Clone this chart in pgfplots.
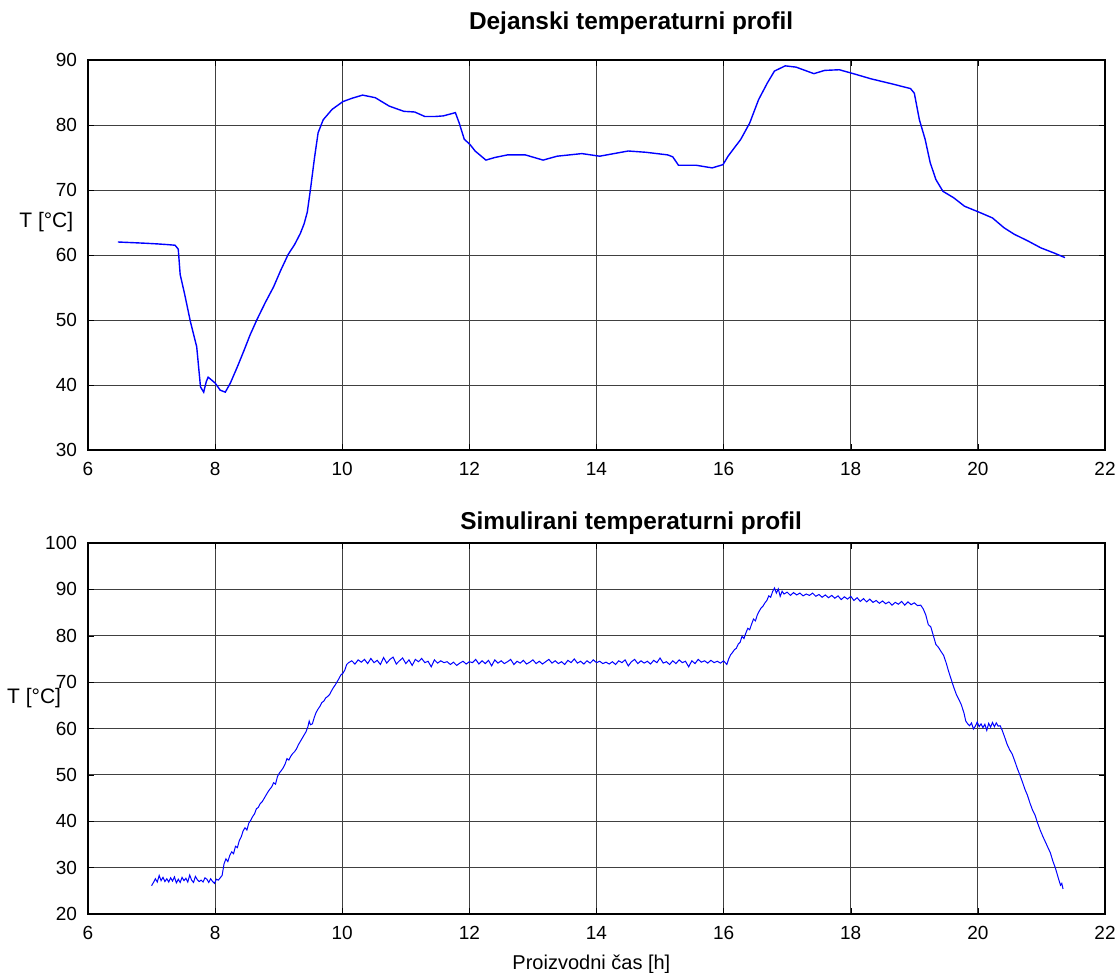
\documentclass[border=0pt]{standalone}
\usepackage{fontspec}
\setmainfont{Liberation Sans}
\usepackage{pgfplots}
\pgfplotsset{compat=1.18}

\pgfplotsset{
  mlab/.style={
    scale only axis,
    width=508.5pt,
    xmin=6, xmax=22,
    xtick={6,8,...,22},
    grid=major,
    grid style={black!75, line width=0.4pt},
    axis line style={black, line width=0.7pt},
    tick align=inside,
    major tick length=3pt,
    tick style={black},
    clip mode=individual,
    /pgf/number format/assume math mode=true,
    ticklabel style={font=\fontsize{9.5}{11}\selectfont},
    xticklabel style={yshift=-2.5pt},
    yticklabel style={xshift=-2pt},
    title style={font=\fontsize{12.2}{14}\selectfont\bfseries, anchor=base},
  },
}

\begin{document}
\begin{tikzpicture}

% top: measured profile
\begin{axis}[mlab,
    name=top,
    at={(0pt,0pt)}, anchor=south west,
    height=195pt,
    ymin=30, ymax=90,
    ytick={30,40,...,90},
    title={Dejanski temperaturni profil},
    title style={at={(0.534,1)}, yshift=9pt},
]
\addplot[blue, line width=0.7pt] coordinates {
(6.47,62.0) (6.70,61.9) (6.92,61.8) (7.10,61.7) (7.25,61.6) (7.37,61.5)
(7.42,60.9) (7.45,57.0) (7.52,54.0) (7.61,49.8) (7.71,45.9) (7.77,39.7)
(7.82,38.9) (7.86,40.5) (7.89,41.2) (7.94,40.8) (8.00,40.3) (8.08,39.2)
(8.16,38.9) (8.24,40.3) (8.35,42.8) (8.45,45.2) (8.55,47.7) (8.66,50.1)
(8.79,52.7) (8.92,55.1) (9.03,57.6) (9.15,60.1) (9.25,61.6) (9.34,63.3)
(9.40,64.8) (9.45,66.6) (9.50,70.1) (9.56,74.7) (9.62,78.8) (9.70,80.8)
(9.84,82.4) (10.01,83.6) (10.15,84.1) (10.32,84.6) (10.52,84.2) (10.74,82.9)
(10.97,82.1) (11.14,82.0) (11.30,81.3) (11.45,81.3) (11.59,81.4) (11.78,81.9)
(11.84,80.3) (11.92,77.8) (12.01,77.0) (12.09,76.0) (12.26,74.6) (12.40,75.0)
(12.60,75.4) (12.88,75.4) (13.16,74.6) (13.38,75.2) (13.77,75.6) (14.05,75.2)
(14.50,76.0) (14.78,75.8) (15.12,75.4) (15.20,75.1) (15.29,73.8) (15.57,73.8)
(15.82,73.4) (15.99,73.9) (16.07,75.2) (16.27,77.8) (16.41,80.3) (16.55,83.9)
(16.69,86.5) (16.80,88.3) (16.97,89.1) (17.14,88.9) (17.42,87.9) (17.59,88.4)
(17.82,88.5) (18.04,87.9) (18.32,87.1) (18.66,86.3) (18.94,85.6) (19.00,84.9)
(19.08,80.8) (19.17,77.8) (19.25,74.2) (19.34,71.6) (19.45,69.8) (19.62,68.8)
(19.79,67.5) (20.04,66.5) (20.23,65.7) (20.41,64.2) (20.57,63.2) (20.78,62.2)
(20.99,61.1) (21.20,60.3) (21.37,59.6)
};
\node[font=\fontsize{10.5}{12}\selectfont] at (axis description cs:-0.041,0.585) {T [°C]};
\end{axis}

% bottom: simulated profile
\begin{axis}[mlab,
    at={(0pt,-232pt)}, anchor=south west,
    height=185.5pt,
    ymin=20, ymax=100,
    ytick={20,30,...,100},
    title={Simulirani temperaturni profil},
    title style={at={(0.534,1)}, yshift=1pt},
]
\addplot[blue, line width=0.5pt] coordinates {
(7.00,26.1) (7.03,26.8) (7.06,27.6) (7.09,26.9) (7.12,28.3) (7.15,27.2) (7.18,27.9)
(7.21,27.0) (7.24,27.6) (7.27,26.9) (7.30,27.8) (7.33,27.1) (7.36,28.0) (7.39,26.7)
(7.42,27.5) (7.45,26.8) (7.48,27.9) (7.51,27.2) (7.54,27.7) (7.57,26.9) (7.60,28.4)
(7.63,27.3) (7.66,26.8) (7.69,28.1) (7.72,27.4) (7.75,27.0) (7.78,27.3) (7.81,26.9)
(7.84,27.8) (7.87,27.5) (7.90,26.8) (7.93,27.6) (7.96,27.0) (7.99,26.6) (8.02,27.5)
(8.05,27.3) (8.08,27.8) (8.11,28.3)
(8.14,30.8) (8.17,31.9) (8.20,31.3) (8.23,32.6) (8.26,33.4) (8.29,33.0) (8.32,34.6)
(8.35,34.3) (8.38,35.8) (8.41,36.6) (8.44,37.9) (8.47,38.6) (8.50,38.1) (8.53,39.6)
(8.56,40.2) (8.59,41.0) (8.62,41.6) (8.65,42.7) (8.68,43.0) (8.71,43.8) (8.74,44.2)
(8.77,44.9) (8.80,45.6) (8.83,46.3) (8.86,46.9) (8.89,47.4) (8.92,48.3) (8.95,48.0)
(8.98,49.6) (9.01,50.4) (9.04,50.9) (9.07,51.5) (9.10,52.3) (9.13,53.5) (9.16,53.2)
(9.19,54.0) (9.22,54.6) (9.25,55.0) (9.28,55.6) (9.31,56.5) (9.34,57.2) (9.37,57.9)
(9.40,58.6) (9.43,59.3) (9.46,60.4) (9.48,61.6) (9.50,60.8) (9.53,61.0) (9.56,62.4)
(9.59,63.5) (9.62,64.2) (9.65,64.8) (9.68,65.6) (9.71,65.9) (9.74,66.6) (9.77,66.9)
(9.80,67.3) (9.83,68.1) (9.86,68.8) (9.89,69.4) (9.92,70.1) (9.95,70.8) (9.98,71.6)
(10.01,71.9) (10.04,72.6) (10.07,73.8) (10.10,74.2)
(10.15,74.6) (10.20,73.9) (10.25,74.8) (10.30,74.3) (10.35,74.9) (10.40,74.0) (10.45,75.1)
(10.50,74.2) (10.55,74.7) (10.60,73.8) (10.65,75.3) (10.70,74.1) (10.75,74.9) (10.80,75.4)
(10.85,73.9) (10.90,74.6) (10.95,75.2) (11.00,74.0) (11.05,74.8) (11.10,73.6) (11.15,74.9)
(11.20,74.4) (11.25,75.1) (11.30,74.2) (11.35,74.5) (11.40,73.3) (11.45,74.8) (11.50,74.1)
(11.55,74.6) (11.60,74.2) (11.65,74.4) (11.70,73.8) (11.75,74.3) (11.80,73.6) (11.85,74.1)
(11.90,74.5) (11.95,73.9) (12.00,74.4) (12.05,74.2) (12.10,74.9) (12.15,73.9) (12.20,74.6)
(12.25,74.0) (12.30,74.7) (12.35,73.5) (12.40,74.8) (12.45,74.1) (12.50,74.6) (12.55,74.0)
(12.60,74.4) (12.65,74.9) (12.70,73.8) (12.75,74.5) (12.80,74.1) (12.85,74.7) (12.90,73.9)
(12.95,74.3) (13.00,74.8) (13.05,74.0) (13.10,74.5) (13.15,73.9) (13.20,74.4) (13.25,74.9)
(13.30,74.1) (13.35,74.6) (13.40,74.0) (13.45,74.4) (13.50,73.8) (13.55,74.7) (13.60,74.2)
(13.65,75.0) (13.70,74.1) (13.75,74.5) (13.80,73.9) (13.85,74.6) (13.90,74.1) (13.95,74.8)
(14.00,74.2) (14.05,74.5) (14.10,74.0) (14.15,74.3) (14.20,73.9) (14.25,74.4) (14.30,73.8)
(14.35,74.6) (14.40,74.2) (14.45,74.8) (14.50,73.5) (14.55,74.4) (14.60,74.9) (14.65,74.0)
(14.70,74.6) (14.75,74.1) (14.80,74.5) (14.85,73.9) (14.90,74.7) (14.95,74.2) (15.00,75.2)
(15.05,74.1) (15.10,74.4) (15.15,73.8) (15.20,74.6) (15.25,74.0) (15.30,74.8) (15.35,74.2)
(15.40,74.5) (15.45,73.3) (15.50,74.6) (15.55,74.0) (15.60,74.9) (15.65,74.3) (15.70,74.6)
(15.75,74.1) (15.80,74.7) (15.85,74.2) (15.90,74.5) (15.95,74.1) (16.00,74.6) (16.05,73.8)
(16.08,75.0) (16.11,75.9) (16.14,76.4) (16.17,77.0) (16.20,77.3) (16.23,78.2) (16.26,78.6)
(16.29,79.9) (16.32,79.4) (16.35,80.6) (16.38,81.6) (16.41,81.3) (16.44,82.5) (16.47,83.6)
(16.50,83.2) (16.53,84.5) (16.56,85.3) (16.59,86.0) (16.62,86.4) (16.65,87.1) (16.68,87.6)
(16.71,88.6) (16.74,88.3) (16.77,89.5) (16.80,90.3) (16.83,89.2) (16.86,90.1) (16.89,88.5)
(16.92,89.6) (16.95,89.0)
(17.00,89.4) (17.05,88.7) (17.10,89.3) (17.15,88.8) (17.20,89.2) (17.25,88.6) (17.30,89.0)
(17.35,88.7) (17.40,89.2) (17.45,88.5) (17.50,88.9) (17.55,88.3) (17.60,88.8) (17.65,88.2)
(17.70,88.7) (17.75,88.1) (17.80,88.6) (17.85,87.8) (17.90,88.4) (17.95,87.9) (18.00,88.5)
(18.05,87.6) (18.10,88.2) (18.15,87.4) (18.20,88.0) (18.25,87.3) (18.30,87.9) (18.35,87.2)
(18.40,87.6) (18.45,87.0) (18.50,87.5) (18.55,86.9) (18.60,87.3) (18.65,86.6) (18.70,87.2)
(18.75,86.8) (18.80,87.4) (18.85,86.6) (18.90,87.3) (18.95,86.7) (19.00,87.1) (19.05,86.5)
(19.10,86.6)
(19.14,85.8) (19.18,84.5) (19.22,82.4) (19.26,81.9) (19.30,80.0) (19.34,78.1) (19.38,77.5)
(19.42,76.6) (19.46,75.8) (19.50,74.2) (19.54,72.3) (19.58,70.6) (19.62,68.9) (19.66,67.4)
(19.70,66.3) (19.74,65.1) (19.78,63.4) (19.81,61.6)
(19.84,61.0) (19.87,60.6) (19.90,61.2) (19.93,59.9) (19.96,60.5) (19.99,61.4) (20.02,60.4)
(20.05,61.0) (20.08,60.2) (20.11,60.9) (20.14,59.6) (20.17,61.1) (20.20,60.3) (20.23,61.3)
(20.26,60.4) (20.29,61.2) (20.32,60.5) (20.35,60.6) (20.38,59.7)
(20.42,58.2) (20.46,56.6) (20.50,55.4) (20.54,54.5) (20.58,53.0) (20.62,51.4) (20.66,50.0)
(20.70,48.5) (20.74,46.9) (20.78,45.6) (20.82,43.9) (20.86,42.4) (20.90,41.3) (20.94,39.6)
(20.98,38.1) (21.02,36.8) (21.06,35.6) (21.10,34.4) (21.14,33.2) (21.18,31.4) (21.22,29.9)
(21.26,28.0) (21.30,26.2) (21.32,26.6) (21.34,25.4)
};
\node[font=\fontsize{10.5}{12}\selectfont] at (axis description cs:-0.053,0.583) {T [°C]};
\node[font=\fontsize{10}{12}\selectfont, anchor=base] at (axis description cs:0.495,0) [yshift=-27.5pt] {Proizvodni čas [h]};
\end{axis}

\pgfresetboundingbox
\path[use as bounding box] (-44pt,-261.5pt) rectangle (516pt,225pt);
\end{tikzpicture}
\end{document}
